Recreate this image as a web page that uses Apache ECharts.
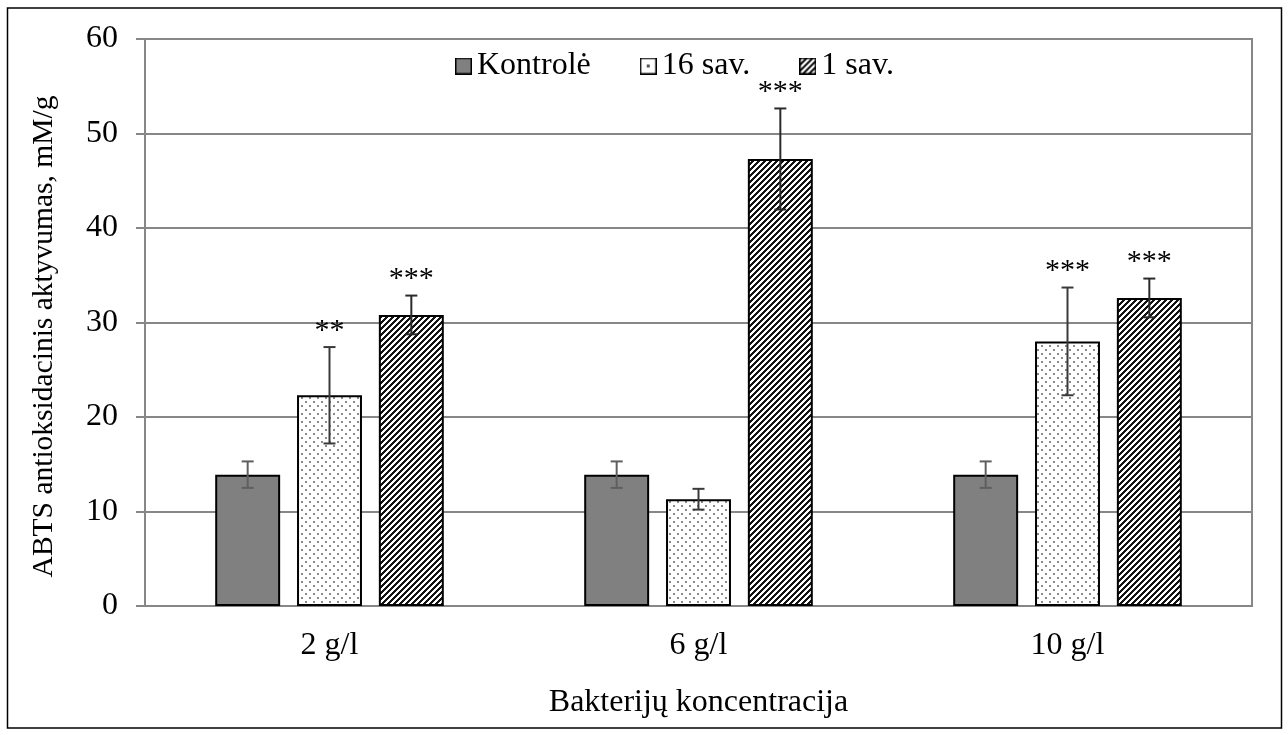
<!DOCTYPE html>
<html>
<head>
<meta charset="utf-8">
<title>ABTS antioksidacinis aktyvumas</title>
<script src="https://cdn.jsdelivr.net/npm/echarts@6/dist/echarts.min.js"></script>
<style>
  html, body { margin: 0; padding: 0; background: #fff; }
  #chart { width: 1288px; height: 735px; }
</style>
</head>
<body>
<div id="chart"></div>
<script>
// Categories (bacteria concentration) and series names
const categories = ['2 g/l', '6 g/l', '10 g/l'];
const seriesNames = ['Kontrolė', '16 sav.', '1 sav.'];

// Mean ABTS activity, mM/g
const kontrole = [13.9, 13.9, 13.9];
const sav16 = [22.3, 11.3, 28.0];
const sav1 = [30.8, 47.3, 32.6];

// Standard deviations (error bars)
const kontroleErr = [1.4, 1.4, 1.4];
const sav16Err = [5.1, 1.1, 5.7];
const sav1Err = [2.05, 5.35, 2.05];

// Significance marks above each bar
const kontroleStars = ['', '', ''];
const sav16Stars = ['**', '', '***'];
const sav1Stars = ['***', '***', '***'];

// Y axis ticks
const yMin = 0, yMax = 60, yStep = 10;

const FONT = '"Liberation Serif", "Times New Roman", serif';
const BAR_FRAC = 0.176;   // bar width as share of a category band
const GAP_FRAC = 0.26;    // gap between bars as share of bar width

// ---- fill patterns ----
function makeCanvas(w, h) {
  const c = document.createElement('canvas');
  c.width = w; c.height = h;
  return c;
}
function dotTile() {
  const c = makeCanvas(8, 8);
  const g = c.getContext('2d');
  g.fillStyle = '#ffffff'; g.fillRect(0, 0, 8, 8);
  g.fillStyle = '#8a8a8a';
  g.fillRect(1, 1, 2, 2);
  g.fillRect(5, 5, 2, 2);
  return c;
}
function hatchTile() {
  const n = 6;
  const c = makeCanvas(n, n);
  const g = c.getContext('2d');
  const img = g.createImageData(n, n);
  for (let y = 0; y < n; y++) {
    for (let x = 0; x < n; x++) {
      const on = ((x + y) % n) < 3;
      const v = on ? 20 : 255;
      const i = (y * n + x) * 4;
      img.data[i] = v; img.data[i + 1] = v; img.data[i + 2] = v; img.data[i + 3] = 255;
    }
  }
  g.putImageData(img, 0, 0);
  return c;
}
const dotPattern = { image: dotTile(), repeat: 'repeat' };
const hatchPattern = { image: hatchTile(), repeat: 'repeat' };

// ---- legend icons ----
function legendIcon(kind) {
  const s = 17;
  const c = makeCanvas(s, s);
  const g = c.getContext('2d');
  if (kind === 0) {
    g.fillStyle = '#808080'; g.fillRect(0, 0, s, s);
  } else if (kind === 1) {
    g.fillStyle = '#ffffff'; g.fillRect(0, 0, s, s);
    g.fillStyle = '#555555'; g.fillRect(7, 7, 3, 3);
  } else {
    g.fillStyle = g.createPattern(hatchTile(), 'repeat');
    g.fillRect(0, 0, s, s);
  }
  g.strokeStyle = '#000000'; g.lineWidth = 1.5;
  g.strokeRect(0.75, 0.75, s - 1.5, s - 1.5);
  return 'image://' + c.toDataURL();
}

// ---- error bars + significance marks ----
function errorSeries(k, means, errs, stars, color) {
  return {
    type: 'custom',
    z: 10,
    silent: true,
    data: means.map((m, i) => [i, m, errs[i]]),
    encode: { x: 0, y: 1 },
    renderItem: function (params, api) {
      const cat = api.value(0), mean = api.value(1), err = api.value(2);
      const band = api.size([1, 0])[0];
      const barW = band * BAR_FRAC;
      const step = barW * (1 + GAP_FRAC);
      const c = api.coord([cat, mean]);
      const x = c[0] + (k - 1) * step;
      const yTop = api.coord([cat, mean + err])[1];
      const yBot = api.coord([cat, mean - err])[1];
      const cap = 6;
      const st = { stroke: color, lineWidth: 2 };
      const children = [
        { type: 'line', shape: { x1: x, y1: yTop, x2: x, y2: yBot }, style: st },
        { type: 'line', shape: { x1: x - cap, y1: yTop, x2: x + cap, y2: yTop }, style: st },
        { type: 'line', shape: { x1: x - cap, y1: yBot, x2: x + cap, y2: yBot }, style: st }
      ];
      const mark = stars[params.dataIndex];
      if (mark) {
        children.push({
          type: 'text',
          style: {
            text: mark, x: x, y: yTop - 16,
            align: 'center', verticalAlign: 'middle',
            font: '30px ' + FONT, fill: '#000'
          }
        });
      }
      return { type: 'group', children: children };
    }
  };
}

const chart = echarts.init(document.getElementById('chart'), null, { renderer: 'canvas' });

const gridColor = '#878787';

const option = {
  backgroundColor: '#ffffff',
  animation: false,
  textStyle: { fontFamily: FONT },
  graphic: [{
    type: 'rect',
    shape: { x: 7.5, y: 8, width: 1274, height: 720 },
    style: { fill: 'none', stroke: '#000', lineWidth: 1.5 },
    silent: true, z: -1
  }],
  grid: {
    left: 145, right: 36, top: 39, bottom: 129,
    show: true, borderColor: gridColor, borderWidth: 2, backgroundColor: 'transparent'
  },
  legend: {
    left: 450, top: 45,
    itemWidth: 17, itemHeight: 17, itemGap: 49,
    textStyle: { fontFamily: FONT, fontSize: 32, color: '#000' },
    data: [
      { name: seriesNames[0], icon: legendIcon(0) },
      { name: seriesNames[1], icon: legendIcon(1) },
      { name: seriesNames[2], icon: legendIcon(2) }
    ]
  },
  xAxis: {
    type: 'category',
    data: categories,
    name: 'Bakterijų koncentracija',
    nameLocation: 'middle',
    nameGap: 81,
    nameTextStyle: { fontFamily: FONT, fontSize: 32, color: '#000' },
    axisLine: { lineStyle: { color: gridColor, width: 2 } },
    axisTick: { show: false },
    axisLabel: { fontFamily: FONT, fontSize: 32, color: '#000', margin: 24 }
  },
  yAxis: {
    type: 'value',
    min: yMin, max: yMax, interval: yStep,
    name: 'ABTS antioksidacinis aktyvumas, mM/g',
    nameLocation: 'middle',
    nameRotate: 90,
    nameGap: 86,
    nameTextStyle: { fontFamily: FONT, fontSize: 29.5, color: '#000', padding: [0, 28, 0, 0] },
    axisLine: { show: true, lineStyle: { color: gridColor, width: 2 } },
    axisTick: { show: true, inside: false, length: 9, lineStyle: { color: gridColor, width: 2 } },
    axisLabel: { fontFamily: FONT, fontSize: 32, color: '#000', margin: 27 },
    splitLine: { lineStyle: { color: gridColor, width: 2 } }
  },
  series: [
    {
      name: seriesNames[0], type: 'bar', data: kontrole,
      barWidth: (BAR_FRAC * 100) + '%', barGap: (GAP_FRAC * 100) + '%',
      itemStyle: { color: '#808080', borderColor: '#000', borderWidth: 2 }
    },
    {
      name: seriesNames[1], type: 'bar', data: sav16,
      barWidth: (BAR_FRAC * 100) + '%', barGap: (GAP_FRAC * 100) + '%',
      itemStyle: { color: dotPattern, borderColor: '#000', borderWidth: 2 }
    },
    {
      name: seriesNames[2], type: 'bar', data: sav1,
      barWidth: (BAR_FRAC * 100) + '%', barGap: (GAP_FRAC * 100) + '%',
      itemStyle: { color: hatchPattern, borderColor: '#000', borderWidth: 2 }
    },
    errorSeries(0, kontrole, kontroleErr, kontroleStars, '#5f5f5f'),
    errorSeries(1, sav16, sav16Err, sav16Stars, '#3a3a3a'),
    errorSeries(2, sav1, sav1Err, sav1Stars, '#2a2a2a')
  ]
};

chart.setOption(option);
</script>
</body>
</html>
